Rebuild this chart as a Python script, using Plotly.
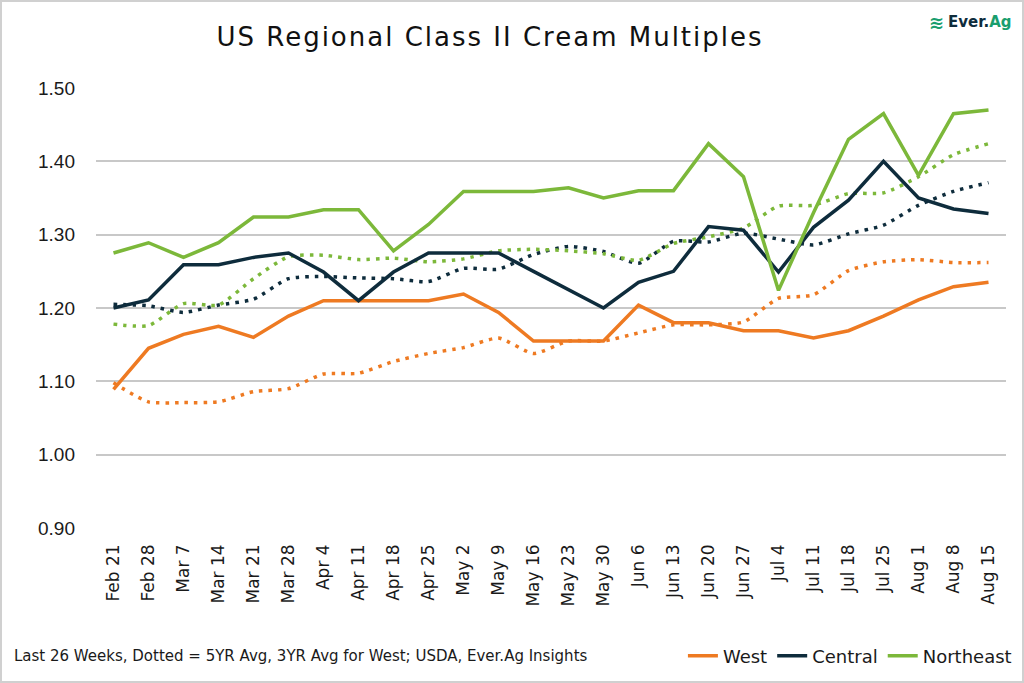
import plotly.graph_objects as go

# === Data ===
weeks = ["Feb 21", "Feb 28", "Mar 7", "Mar 14", "Mar 21", "Mar 28", "Apr 4", "Apr 11",
         "Apr 18", "Apr 25", "May 2", "May 9", "May 16", "May 23", "May 30", "Jun 6",
         "Jun 13", "Jun 20", "Jun 27", "Jul 4", "Jul 11", "Jul 18", "Jul 25", "Aug 1",
         "Aug 8", "Aug 15"]

west = [1.089, 1.145, 1.164, 1.175, 1.160, 1.189, 1.210, 1.210, 1.210, 1.210, 1.219, 1.194,
        1.155, 1.155, 1.155, 1.204, 1.180, 1.180, 1.169, 1.169, 1.159, 1.169, 1.189, 1.211,
        1.229, 1.235]
central = [1.200, 1.211, 1.259, 1.259, 1.269, 1.275, 1.249, 1.210, 1.249, 1.275, 1.275, 1.275,
           1.250, 1.225, 1.200, 1.235, 1.250, 1.311, 1.306, 1.249, 1.310, 1.347, 1.400, 1.350,
           1.335, 1.329]
northeast = [1.275, 1.289, 1.269, 1.289, 1.324, 1.324, 1.334, 1.334, 1.278, 1.314, 1.359, 1.359,
             1.359, 1.364, 1.350, 1.360, 1.360, 1.424, 1.379, 1.224, 1.330, 1.430, 1.465, 1.381,
             1.465, 1.470]

west_avg = [1.098, 1.072, 1.071, 1.072, 1.086, 1.090, 1.110, 1.111, 1.127, 1.138, 1.146, 1.159,
            1.138, 1.155, 1.155, 1.166, 1.177, 1.177, 1.181, 1.213, 1.218, 1.251, 1.263, 1.266,
            1.262, 1.262]
central_avg = [1.205, 1.203, 1.194, 1.204, 1.212, 1.240, 1.243, 1.241, 1.240, 1.236, 1.254, 1.253,
               1.273, 1.284, 1.277, 1.261, 1.291, 1.290, 1.302, 1.294, 1.286, 1.301, 1.313, 1.340,
               1.359, 1.371]
northeast_avg = [1.178, 1.176, 1.206, 1.204, 1.240, 1.270, 1.272, 1.266, 1.268, 1.263, 1.267, 1.278,
                 1.280, 1.278, 1.274, 1.265, 1.288, 1.297, 1.309, 1.339, 1.340, 1.356, 1.357, 1.379,
                 1.409, 1.424]

ORANGE = "#EE7A22"
NAVY = "#0E2C3C"
GREEN = "#7CB83A"
FONT = "DejaVu Sans"

fig = go.Figure()

# dotted averages (smoothed like the original)
for vals, col in [(west_avg, ORANGE), (central_avg, NAVY), (northeast_avg, GREEN)]:
    fig.add_trace(go.Scatter(
        x=weeks, y=vals, mode="lines", showlegend=False,
        line=dict(color=col, width=3.5, dash="3.5px,6px", shape="spline", smoothing=0.6),
    ))

# solid current-year lines
for name, vals, col in [("West", west, ORANGE), ("Central", central, NAVY), ("Northeast", northeast, GREEN)]:
    fig.add_trace(go.Scatter(
        x=weeks, y=vals, mode="lines", name=name,
        line=dict(color=col, width=3.5),
    ))

fig.update_layout(
    width=1024, height=683,
    paper_bgcolor="white", plot_bgcolor="white",
    margin=dict(l=96, r=18, t=88, b=155, autoexpand=False),
    font=dict(family=FONT, color="#1a1a1a"),
    title=dict(text="<span style='letter-spacing:2px'>US Regional Class II Cream Multiples</span>",
               x=490 / 1024, xanchor="center", xref="container",
               y=1 - 37 / 683, yanchor="middle", font=dict(size=26, color="#111111")),
    xaxis=dict(type="category", range=[-0.5, 25.5], tickangle=-90, showgrid=False,
               showline=False, ticks="", ticklabelstandoff=12, automargin=False,
               tickfont=dict(size=17, color="#1a1a1a")),
    yaxis=dict(range=[0.9, 1.5], dtick=0.1, tickformat=".2f", showgrid=True,
               gridcolor="#C8C8C8", gridwidth=1.5, zeroline=False, showline=False,
               ticks="", ticklabelstandoff=20, automargin=False,
               tickfont=dict(family="Liberation Sans", size=19, color="#1a1a1a")),
    legend=dict(orientation="h", x=1.012, xanchor="right", y=-128 / 440, yanchor="middle",
                font=dict(size=18, color="#1a1a1a"), itemwidth=30, tracegroupgap=0,
                bgcolor="rgba(0,0,0,0)"),
    showlegend=True,
)

fig.add_annotation(text="Last 26 Weeks, Dotted = 5YR Avg, 3YR Avg for West; USDA, Ever.Ag Insights",
                   xref="paper", yref="paper", x=-84 / 910, y=-128 / 440, xanchor="left", yanchor="middle",
                   showarrow=False, font=dict(size=15, color="#1a1a1a"))

# Ever.Ag logo
fig.add_annotation(text="<b><span style='color:#0E2C3C'>Ever.</span><span style='color:#1A9E6E'>Ag</span></b>",
                   xref="paper", yref="paper", x=(1014 - 96) / 910, y=1 + 66 / 440, xanchor="right",
                   yanchor="middle", showarrow=False, font=dict(size=15))
fig.add_annotation(text="<b>≋</b>",
                   xref="paper", yref="paper", x=(946 - 96) / 910, y=1 + 66 / 440, xanchor="right",
                   yanchor="middle", showarrow=False, font=dict(size=18, color="#1A9E6E"))

# light grey frame around the whole chart
fig.add_shape(type="rect", xref="paper", yref="paper",
              x0=-95 / 910, x1=1 + 17 / 910, y0=-154 / 440, y1=1 + 87 / 440,
              line=dict(color="#D0D0D0", width=2), fillcolor="rgba(0,0,0,0)")

fig.write_html("out.html", config={"displayModeBar": False},
               post_script="document.body.style.margin='0px';")
